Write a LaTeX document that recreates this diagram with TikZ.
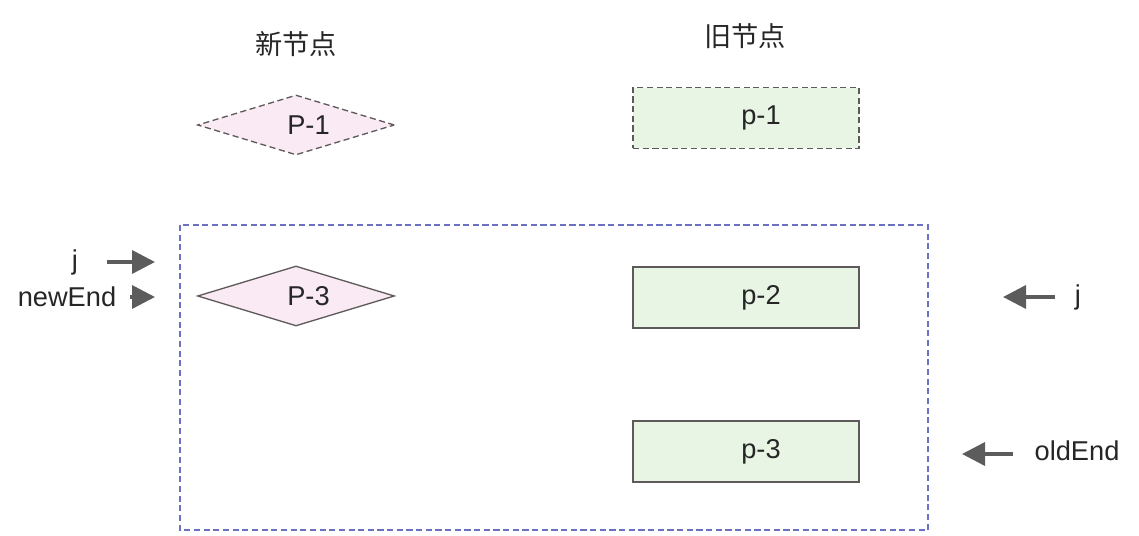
\documentclass[tikz,border=0pt]{standalone}
\usepackage{fontspec}
\setmainfont{Liberation Sans}
\newfontfamily\cjk{Noto Sans CJK SC}
\usetikzlibrary{shapes.geometric, arrows.meta, positioning, calc}

\definecolor{newfill}{HTML}{F9EAF4}
\definecolor{oldfill}{HTML}{E8F5E4}
\definecolor{edgegray}{HTML}{5E5A5A}
\definecolor{rangeblue}{HTML}{6A70C2}
\definecolor{ptrgray}{HTML}{5C5C5C}
\definecolor{txtgray}{HTML}{262626}

\begin{document}
\begin{tikzpicture}[
      x=0.02cm, y=-0.02cm,
      font=\fontsize{15.5}{18}\selectfont, text=txtgray,
      newnode/.style={diamond, draw=edgegray, fill=newfill, line width=0.75pt, aspect=3.3, minimum width=3.94cm, minimum height=1.2cm, inner sep=0pt},
      oldnode/.style={rectangle, draw=edgegray, fill=oldfill, line width=0.75pt, minimum width=4.52cm, minimum height=1.22cm},
      windowbox/.style={draw=rangeblue, dash pattern=on 3.5pt off 2pt, line width=0.7pt},
      ghost/.style={dash pattern=on 3.5pt off 2pt},
      ptr/.style={-{Triangle[length=0.46cm, width=0.46cm]}, line width=2pt, draw=ptrgray}
    ]
    \useasboundingbox (0,0) rectangle (1139,536);

    \node (newtitle) at (296,44) {\cjk 新节点};
    \node (oldtitle) at (745,36) {\cjk 旧节点};

    \draw[windowbox] (180,225) rectangle (928,530);

    \node[newnode, ghost] (np1) at (296,125) {\hspace*{0.5cm}P-1};
    \node[newnode] (np3) at (296,296) {\hspace*{0.5cm}P-3};

    \node[oldnode, ghost] (op1) at (746,118) {\hspace*{0.6cm}p-1};
    \node[oldnode] (op2) at (746,297.5) {\hspace*{0.6cm}p-2};
    \node[oldnode] (op3) at (746,451.5) {\hspace*{0.6cm}p-3};

    % pointers on the new side
    \node (jnew) at (75,262) {j};
    \node (newend) at (67,297) {newEnd};
    \coordinate (jnew0) at (107,262);
    \coordinate (jnew1) at (155,262);
    \coordinate (newend0) at (130,297);
    \coordinate (newend1) at (155,297);
    \draw[ptr] (jnew0) -- (jnew1);
    \draw[ptr] (newend0) -- (newend1);

    % pointers on the old side
    \node (jold) at (1078,297) {j};
    \node (oldend) at (1077,451) {oldEnd};
    \coordinate (jold0) at (1055,297);
    \coordinate (jold1) at (1003,297);
    \coordinate (oldend0) at (1013,454);
    \coordinate (oldend1) at (962,454);
    \draw[ptr] (jold0) -- (jold1);
    \draw[ptr] (oldend0) -- (oldend1);
  \end{tikzpicture}
\end{document}
